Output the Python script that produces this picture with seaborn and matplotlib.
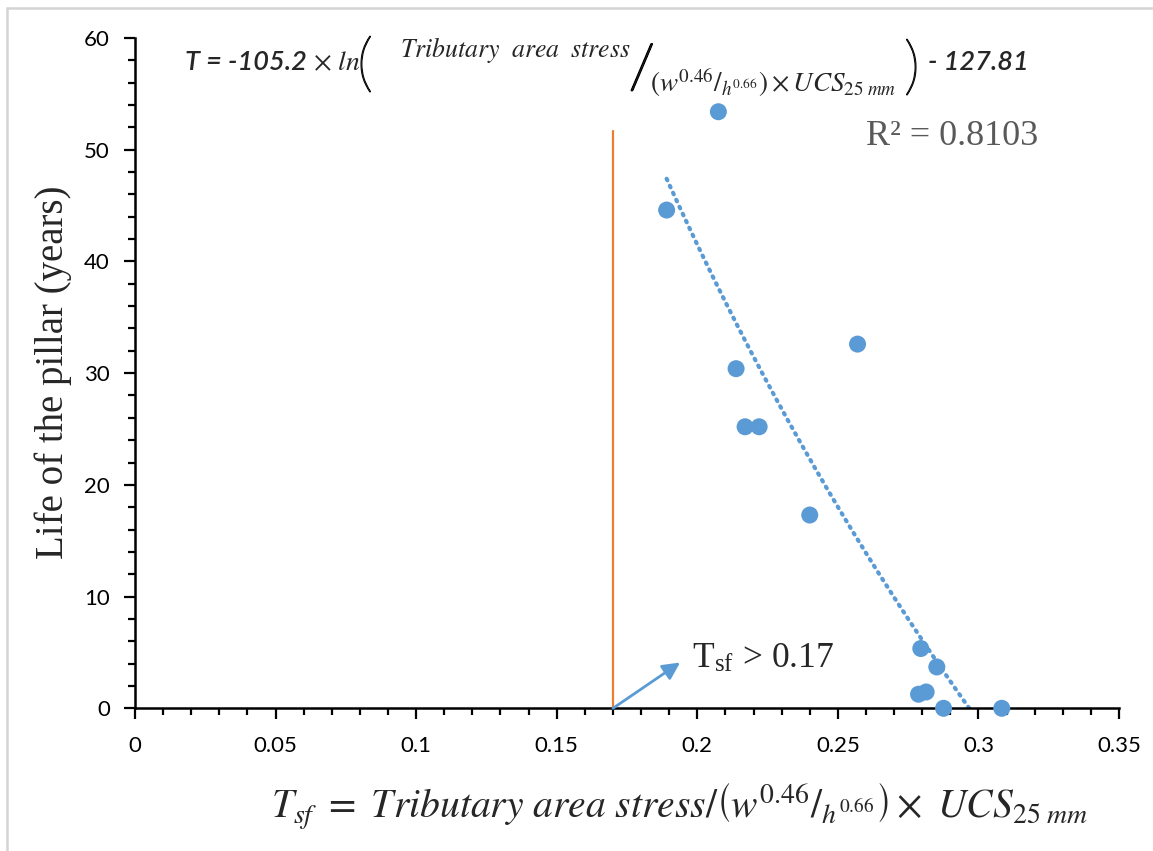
import numpy as np
import matplotlib
matplotlib.use("Agg")
import matplotlib.pyplot as plt
import matplotlib.patheffects as pe
from matplotlib.lines import Line2D
from matplotlib.ticker import MultipleLocator
import seaborn as sns

# Safety factor of each pillar and its observed life
tsf = [0.2075, 0.1891, 0.2138, 0.2570, 0.2170, 0.2220, 0.2400,
       0.2795, 0.2852, 0.2787, 0.2814, 0.2876, 0.3083]
life_years = [53.4, 44.6, 30.4, 32.6, 25.2, 25.2, 17.3,
              5.35, 3.7, 1.26, 1.46, 0.0, 0.0]

# Logarithmic trend: T = a * ln(Tsf) + b
trend_a = -105.2
trend_b = -127.81
r_squared = 0.8103

# Critical safety factor marker
tsf_limit = 0.17
limit_line_top = 51.7

x_ticks = [0, 0.05, 0.1, 0.15, 0.2, 0.25, 0.3, 0.35]
x_tick_labels = ["0", "0.05", "0.1", "0.15", "0.2", "0.25", "0.3", "0.35"]
y_ticks = [0, 10, 20, 30, 40, 50, 60]
y_tick_labels = ["0", "10", "20", "30", "40", "50", "60"]

sns.set_style("ticks")
plt.rcParams["mathtext.fontset"] = "stix"
plt.rcParams["font.family"] = ["Lato", "DejaVu Sans"]

W, H = 1153, 851
fig = plt.figure(figsize=(W / 100, H / 100), dpi=100)
fig.patch.set_facecolor("white")


def fx(px):
    return px / W


def fy(py):
    return 1 - py / H


ax = fig.add_axes([fx(135), fy(708.3), fx(1119) - fx(135), fy(38) - fy(708.3)])
ax.set_facecolor("white")

blue = "#5B9BD5"
orange = "#ED7D31"

# Trend line over the range of the data
xs = np.linspace(min(tsf), max(tsf), 300)
trend_y = trend_a * np.log(xs) + trend_b
sns.lineplot(x=xs, y=trend_y, ax=ax, color=blue, lw=3.0,
             linestyle=(0, (0.4, 1.45)), zorder=2)
ax.lines[-1].set_dash_capstyle("round")

sns.scatterplot(x=tsf, y=life_years, ax=ax, s=150, color=blue,
                edgecolor="none", linewidth=0, zorder=3)
ax.collections[-1].set_clip_on(False)

# Vertical limit line and arrow
ax.plot([tsf_limit, tsf_limit], [0, limit_line_top], color=orange, lw=1.6, zorder=1)
ax.annotate("", xy=(0.1939, 4.1), xytext=(tsf_limit, 0),
            arrowprops=dict(arrowstyle="-|>", color=blue, lw=2.0,
                            mutation_scale=26, shrinkA=0, shrinkB=0),
            annotation_clip=False, zorder=4)
ax.text(0.198, 3.7, r"T$_\mathregular{sf}$ > 0.17", fontsize=25.5,
        family="Liberation Serif", va="baseline", ha="left")

ax.text(0.26, 50.4, f"R² = {r_squared}", fontsize=26, color="#595959",
        family="Liberation Serif", va="baseline", ha="left")

ax.set_xlim(0, 0.35)
ax.set_ylim(0, 60)
ax.set_xticks(x_ticks)
ax.set_xticklabels(x_tick_labels)
ax.set_yticks(y_ticks)
ax.set_yticklabels(y_tick_labels)
ax.xaxis.set_minor_locator(MultipleLocator(0.01))
ax.yaxis.set_minor_locator(MultipleLocator(2))
ax.tick_params(axis="both", which="major", length=8, width=1.6, color="black",
               labelsize=16, labelcolor="black")
ax.tick_params(axis="both", which="minor", length=5, width=1.6, color="black")
ax.tick_params(axis="x", which="major", pad=12)
ax.tick_params(axis="y", which="major", pad=10)
for side in ("top", "right"):
    ax.spines[side].set_visible(False)
for side in ("left", "bottom"):
    ax.spines[side].set_linewidth(1.8)
    ax.spines[side].set_color("black")
ax.set_xlabel("")
ax.set_ylabel("")

# Axis titles
fig.text(fx(53), fy(372), "Life of the pillar (years)", rotation=90,
         fontsize=28, family="Liberation Serif", ha="center", va="center")
fig.text(fx(680), fy(806),
         r"$T_{sf}\ =\ Tributary\ area\ stress/\left(w^{0.46}/_{h^{0.66}}\right)\times\ UCS_{25\ mm}$",
         fontsize=28.5, ha="center", va="center")

# Trend equation
eq_kw = dict(fontsize=19.5, style="italic", weight="semibold", va="center", ha="left")
paren_kw = dict(fontsize=46, family="Lato", weight="light", va="center", ha="left",
                path_effects=[pe.withStroke(linewidth=0.9, foreground="black")])
slash_kw = dict(fontsize=44, family="Lato", weight="light", va="center", ha="left",
                path_effects=[pe.withStroke(linewidth=1.5, foreground="black")])
fig.text(fx(185), fy(62), "T = -105.2", **eq_kw)
fig.text(fx(313), fy(62), r"$\times\ ln$", fontsize=20, va="center", ha="left")
fig.text(fx(357), fy(67), "(", **paren_kw)
fig.text(fx(400), fy(50), r"$Tributary\ \ area\ \ stress$", fontsize=18.5,
         va="center", ha="left")
fig.text(fx(629), fy(71), "/", **slash_kw)
fig.text(fx(650), fy(83), r"$(w^{0.46}/_{h^{0.66}})\times UCS_{25\ mm}$",
         fontsize=19.5, va="center", ha="left")
fig.text(fx(904), fy(70), ")", **paren_kw)
fig.text(fx(928), fy(62), "- 127.81", **eq_kw)

# Outer frame edges
fig.add_artist(Line2D([fx(7), fx(7)], [0, fy(8)], color="#D4D4D4", lw=1.8))
fig.add_artist(Line2D([fx(7), 1], [fy(8), fy(8)], color="#D4D4D4", lw=1.8))

fig.savefig("out.png", dpi=100, facecolor="white")
